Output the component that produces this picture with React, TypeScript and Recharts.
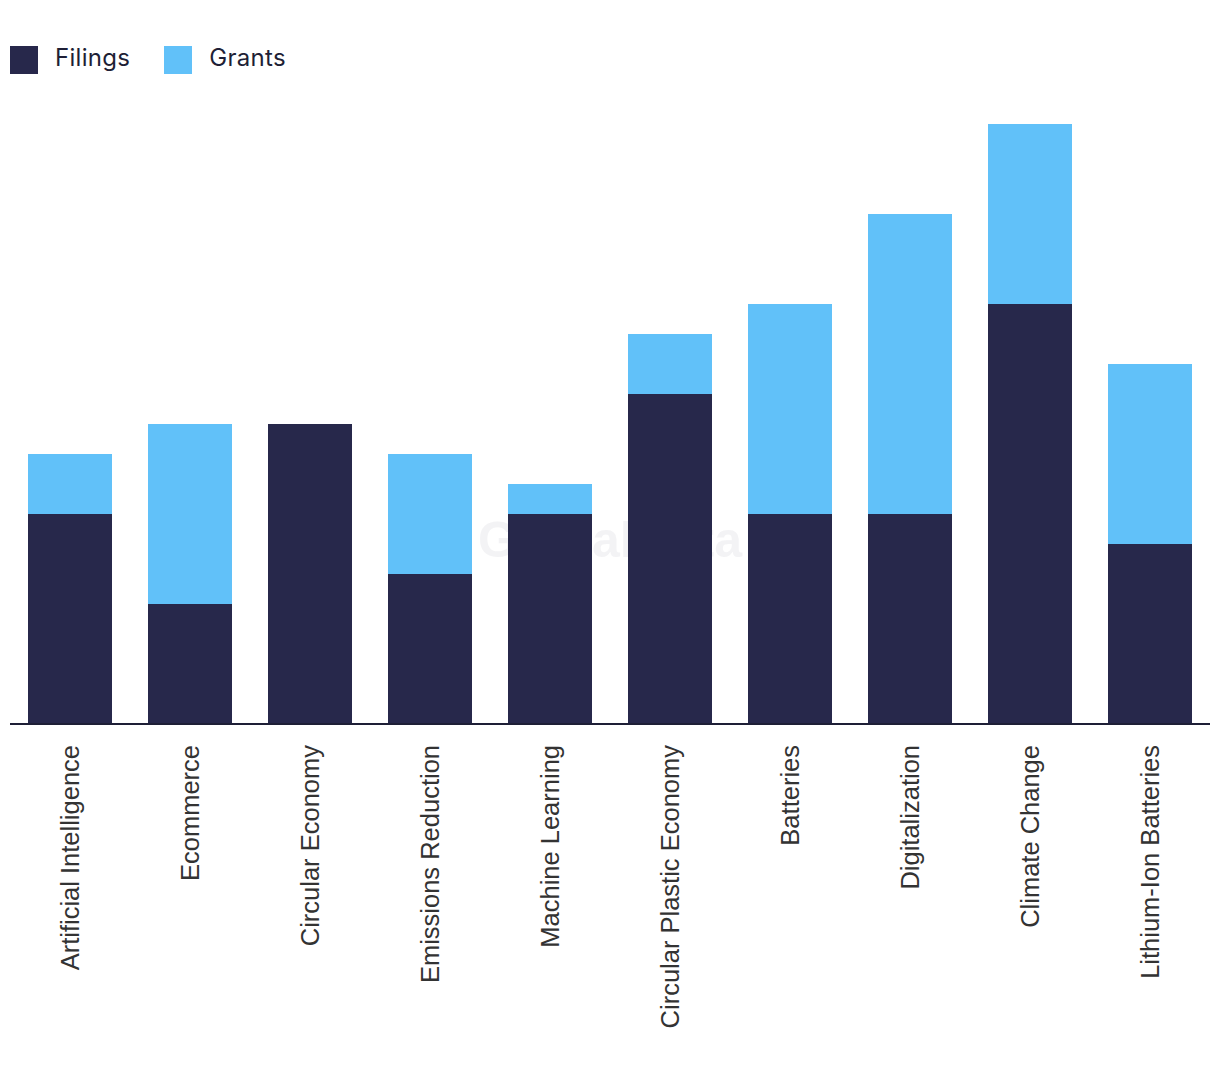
import React from "react"
import { BarChart, Bar, XAxis, YAxis, Legend, Customized } from "recharts"

const categories = [
  "Artificial Intelligence",
  "Ecommerce",
  "Circular Economy",
  "Emissions Reduction",
  "Machine Learning",
  "Circular Plastic Economy",
  "Batteries",
  "Digitalization",
  "Climate Change",
  "Lithium-Ion Batteries",
]
const filings = [7, 4, 10, 5, 7, 11, 7, 7, 14, 6]
const grants = [2, 6, 0, 4, 1, 2, 7, 10, 6, 6]

const data = categories.map((name, i) => ({ name, filings: filings[i], grants: grants[i] }))

const DARK = "#27284b"
const LIGHT = "#61c1f9"

const AxisTick = (props: any) => {
  const { x, payload } = props
  const y = 745
  return (
    <text
      x={x}
      y={y}
      transform={`rotate(-90, ${x}, ${y})`}
      textAnchor="end"
      dy="0.36em"
      fill="#333"
      fontSize={25.5}
      fontFamily="'Liberation Sans', Arial, sans-serif"
    >
      {payload.value}
    </text>
  )
}

const LegendContent = () => {
  const items = [
    { label: "Filings", color: DARK },
    { label: "Grants", color: LIGHT },
  ]
  return (
    <div style={{ display: "flex", alignItems: "center", height: 28, fontFamily: "Inter, 'Noto Sans', sans-serif", fontSize: 24, color: "#1e1f36" }}>
      {items.map((it) => (
        <div key={it.label} style={{ display: "flex", alignItems: "center", marginRight: 34 }}>
          <span style={{ width: 28, height: 28, background: it.color, display: "inline-block", marginRight: 17 }} />
          <span style={{ lineHeight: "28px", position: "relative", top: -2, letterSpacing: 0.3 }}>{it.label}</span>
        </div>
      ))}
    </div>
  )
}

const Watermark = () => (
  <text
    x={610}
    y={540}
    textAnchor="middle"
    dominantBaseline="central"
    fontSize={50}
    fontWeight={700}
    fontFamily="'Liberation Sans', Arial, sans-serif"
    fill="#cfcfd8"
    fillOpacity={0.25}
  >
    GlobalData
  </text>
)

export default function App() {
  return (
    <div style={{ margin: -8, width: 1220, height: 1078, background: "#fff" }}>
      <BarChart
        width={1220}
        height={1078}
        data={data}
        margin={{ top: 96, right: 10, bottom: 24, left: 10 }}
        barCategoryGap="15%"
      >
        <XAxis
          dataKey="name"
          interval={0}
          height={330}
          tickLine={false}
          axisLine={{ stroke: "#1e1f36", strokeWidth: 2 }}
          tick={<AxisTick />}
        />
        <YAxis hide domain={[0, 20]} />
        <Legend
          verticalAlign="top"
          align="left"
          content={<LegendContent />}
          wrapperStyle={{ position: "absolute", top: 46, left: 10, width: "auto", height: 28 }}
        />
        <Bar dataKey="filings" name="Filings" stackId="a" fill={DARK} isAnimationActive={false} />
        <Bar dataKey="grants" name="Grants" stackId="a" fill={LIGHT} isAnimationActive={false} />
        <Customized component={Watermark} />
      </BarChart>
    </div>
  )
}
